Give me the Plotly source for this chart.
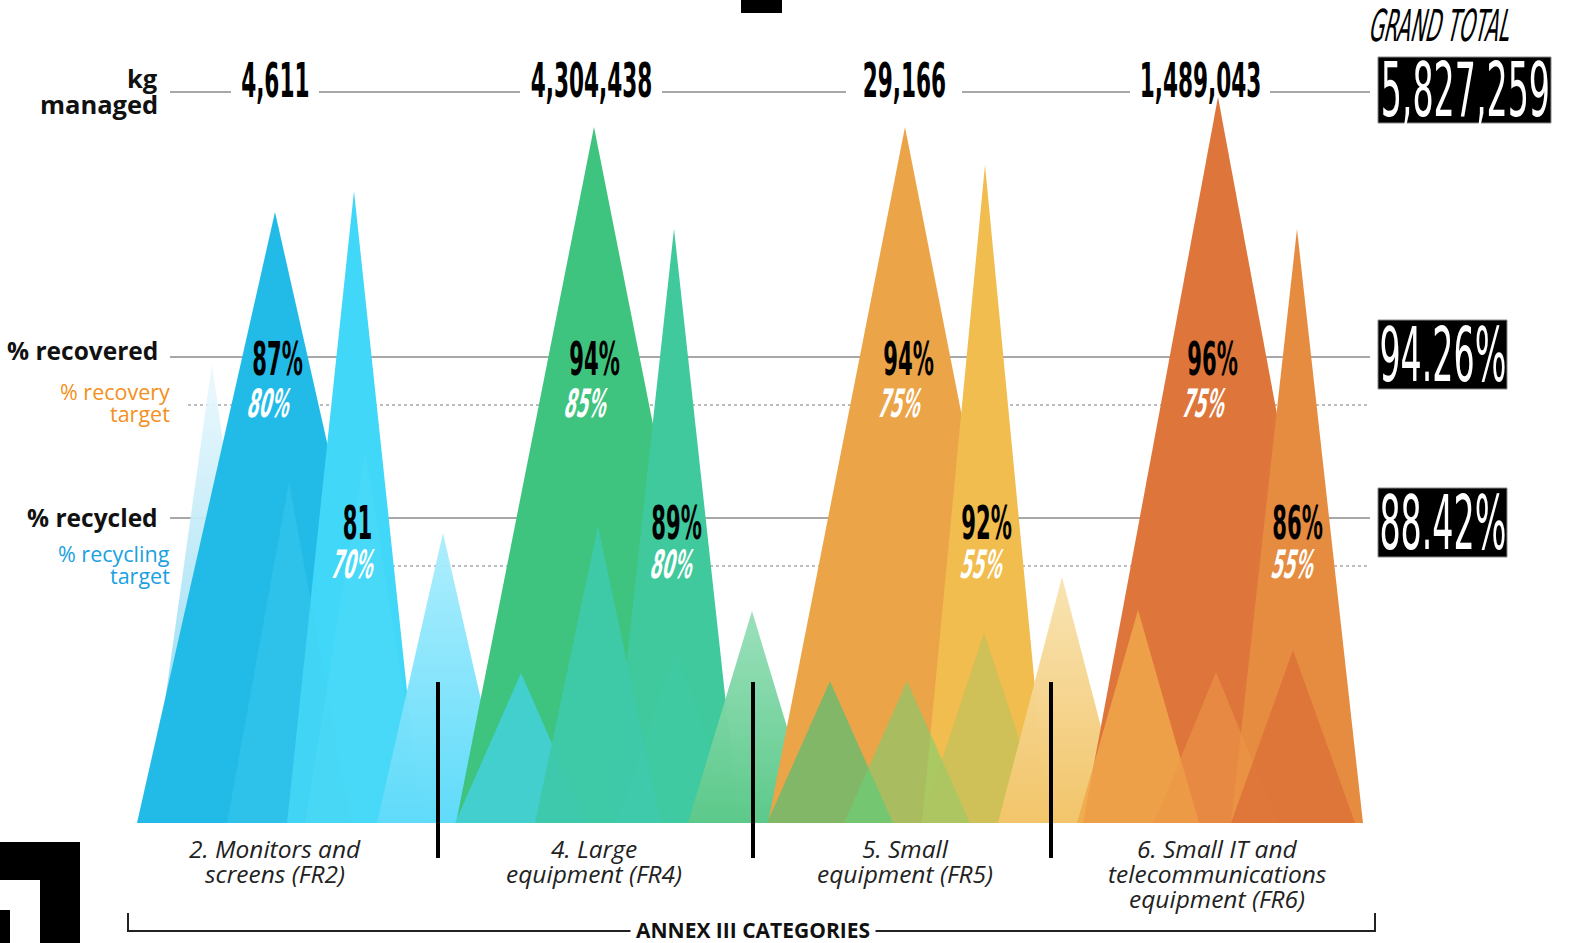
import plotly.graph_objects as go

# ---------------- data ----------------
categories = ["2. Monitors and<br>screens (FR2)", "4. Large<br>equipment (FR4)",
              "5. Small<br>equipment (FR5)", "6. Small IT and<br>telecommunications<br>equipment (FR6)"]
kg_managed = [4611, 4304438, 29166, 1489043]
pct_recovered = [87, 94, 94, 96]
pct_recovery_target = [80, 85, 75, 75]
pct_recycled = [81, 89, 92, 86]
recycled_suffix = ["", "%", "%", "%"]
pct_recycling_target = [70, 80, 55, 55]
grand_total_kg = 5827259
grand_total_recovered = 94.26
grand_total_recycled = 88.42

# ---------------- layout geometry (pixels) ----------------
W, H = 1570, 943
BASE_Y = 823
group_x = [275, 594, 905, 1217]
kg_label_x = [275, 591, 904, 1200]
kg_gap_half = [44, 71, 58, 70]
recov_label_x = [277, 594, 908, 1212]
recyc_label_x = [357, 676, 986, 1297]
Y_KG, Y_REC, Y_REC_T, Y_CYC, Y_CYC_T = 92, 357, 405, 518, 566

# decorative triangles: (center x, half width, apex y, fill, gradient bottom colour or None)
triangles = [
    # blue group
    (212, 64, 364, "rgba(235,248,253,0.9)", "#7fd5f0"),
    (275, 138, 212, "#22bbe7", None),
    (354, 67, 191, "#40d7f8", None),
    (289, 62, 482, "rgba(70,205,242,0.35)", None),
    (365, 60, 449, "rgba(90,220,250,0.35)", None),
    (443, 66, 533, "rgba(170,237,253,0.95)", "#5fdbfa"),
    # green group
    (594, 138, 127, "#3ec47e", None),
    (674, 65, 229, "#3fc99d", None),
    (521, 66, 673, "rgba(66,208,210,0.95)", None),
    (598, 63, 526, "rgba(62,201,170,0.92)", None),
    (676, 60, 650, "rgba(62,205,175,0.30)", None),
    (752, 64, 611, "rgba(150,223,184,0.95)", "#5cc98a"),
    # orange group
    (905, 137, 127, "#eca448", None),
    (985, 63, 165, "#f0bd4e", None),
    (830, 63, 681, "rgba(62,196,126,0.6)", None),
    (907, 63, 681, "rgba(102,214,120,0.5)", None),
    (984, 63, 633, "rgba(176,195,98,0.5)", None),
    (1062, 64, 577, "rgba(248,226,174,0.95)", "#f2c56a"),
    # red group
    (1218, 135, 97, "#de763b", None),
    (1297, 66, 229, "#e68c40", None),
    (1138, 61, 610, "rgba(240,168,74,0.85)", None),
    (1216, 62, 672, "rgba(236,150,72,0.6)", None),
    (1293, 62, 650, "rgba(220,112,56,0.8)", None),
]

COND = "DejaVu Sans Condensed, DejaVu Sans"   # squeezed horizontally after render
SANS = "Open Sans, Lato, sans-serif"

fig = go.Figure()
for cx, hw, apex, col, grad in triangles:
    kw = dict(x=[cx - hw, cx, cx + hw, cx - hw], y=[BASE_Y, apex, BASE_Y, BASE_Y],
              mode="none", fill="toself", hoverinfo="skip", showlegend=False)
    if grad:
        kw["fillgradient"] = dict(type="vertical", colorscale=[[0, col], [1, grad]],
                                  start=apex, stop=BASE_Y)
    else:
        kw["fillcolor"] = col
    fig.add_trace(go.Scatter(**kw))

shapes = []
GRAY = "#a8a8a8"
# kg managed row with gaps round the numbers
xs = [170]
for lx, g in zip(kg_label_x, kg_gap_half):
    xs += [lx - g, lx + g]
xs.append(1370)
for a, b in zip(xs[0::2], xs[1::2]):
    shapes.append(dict(type="line", x0=a, x1=b, y0=Y_KG, y1=Y_KG, layer="below",
                       line=dict(color=GRAY, width=2)))
for y0, x0, dash, w in [(Y_REC, 170, "solid", 2), (Y_CYC, 170, "solid", 2),
                        (Y_REC_T, 188, "dot", 1.5), (Y_CYC_T, 188, "dot", 1.5)]:
    shapes.append(dict(type="line", x0=x0, x1=1370, y0=y0, y1=y0, layer="below",
                       line=dict(color=GRAY, width=w, dash=dash)))
# separators
for sx in [438, 753, 1051]:
    shapes.append(dict(type="line", x0=sx, x1=sx, y0=682, y1=858, layer="above",
                       line=dict(color="black", width=4)))
# bracket
shapes.append(dict(type="path", path="M128,913 L128,931 L1375,931 L1375,913", layer="above",
                   line=dict(color="#222", width=2)))
# grand total boxes
for x0, y0, x1, y1 in [(1378, 57, 1551, 123), (1378, 320, 1507, 389), (1378, 488, 1507, 557)]:
    shapes.append(dict(type="rect", x0=x0, x1=x1, y0=y0, y1=y1, fillcolor="black",
                       line=dict(color="#888", width=1), layer="above"))
# decorative black blocks
shapes.append(dict(type="rect", x0=741, x1=782, y0=0, y1=13, fillcolor="black", line_width=0))
shapes.append(dict(type="rect", x0=0, x1=80, y0=842, y1=943, fillcolor="black", line_width=0))
shapes.append(dict(type="rect", x0=0, x1=40, y0=880, y1=943, fillcolor="white", line_width=0))
shapes.append(dict(type="rect", x0=0, x1=10, y0=910, y1=943, fillcolor="black", line_width=0))

ann = []
def A(x, y, text, size, color="black", family=COND, weight="normal", style="normal",
      xanchor="center", yanchor="middle", align="center", **kw):
    ann.append(dict(x=x, y=y, xref="x", yref="y", text=text, showarrow=False,
                    xanchor=xanchor, yanchor=yanchor, align=align,
                    font=dict(family=family, size=size, color=color, weight=weight, style=style), **kw))

# row labels
A(160, 78, "kg", 25.5, "#111", SANS, 700, xanchor="right")
A(160, 104, "managed", 25.5, "#111", SANS, 700, xanchor="right")
A(160, 350, "% recovered", 24.5, "#111", SANS, 700, xanchor="right")
A(172, 391, "% recovery", 21.5, "#f39020", SANS, 500, xanchor="right")
A(172, 413, "target", 21.5, "#f39020", SANS, 500, xanchor="right")
A(160, 517, "% recycled", 24.5, "#111", SANS, 700, xanchor="right")
A(172, 553, "% recycling", 21.5, "#1aa0e0", SANS, 500, xanchor="right")
A(172, 575, "target", 21.5, "#1aa0e0", SANS, 500, xanchor="right")

# kg managed values
for lx, v in zip(kg_label_x, kg_managed):
    A(lx, 80, f"{v:,}", 48, "black", COND, "bold")

# percentages per category
for i in range(4):
    A(recov_label_x[i], Y_REC + 1, f"{pct_recovered[i]}%", 47, "black", COND, "bold")
    A(recov_label_x[i] - 7, Y_REC_T - 2, f"{pct_recovery_target[i]}%", 39, "white", COND, "bold", "italic")
    A(recyc_label_x[i], Y_CYC + 4, f"{pct_recycled[i]}{recycled_suffix[i]}", 47, "black", COND, "bold")
    A(recyc_label_x[i] - 3, Y_CYC_T - 2, f"{pct_recycling_target[i]}%", 39, "white", COND, "bold", "italic")

# category names (one annotation per line for tight leading)
for gx, c in zip(group_x, categories):
    for k, line in enumerate(c.split("<br>")):
        A(gx, 848 + 25 * k, line, 24.5, "#222", SANS, 400, "italic")
A(753, 930, "ANNEX III CATEGORIES", 21, "#111", SANS, 700, bgcolor="white", borderpad=5)

# grand totals
A(1441, 25, "GRAND TOTAL", 44, "black", COND, "normal", "italic")
A(1465, 90, f"{grand_total_kg:,}", 74, "white", COND)
A(1443, 355, f"{grand_total_recovered:.2f}%", 74, "white", COND)
A(1443, 523, f"{grand_total_recycled:.2f}%", 74, "white", COND)

fig.update_layout(
    width=W, height=H, margin=dict(l=0, r=0, t=0, b=0),
    paper_bgcolor="white", plot_bgcolor="white",
    xaxis=dict(range=[0, W], visible=False, fixedrange=True),
    yaxis=dict(range=[H, 0], visible=False, fixedrange=True),
    shapes=shapes, annotations=ann, showlegend=False,
)

post = """
document.body.style.margin='0';
document.body.style.overflow='hidden';
var gd = document.getElementById('{plot_id}');
gd.querySelectorAll('text.annotation-text').forEach(function(t){
  var ff = t.style.fontFamily || '';
  if (ff.indexOf('Condensed') >= 0) {
    var it = (t.style.fontStyle === 'italic');
    t.style.fontStyle = 'normal';
    t.style.transformBox = 'fill-box';
    t.style.transformOrigin = 'center';
    t.style.transform = (it ? 'skewX(-13deg) ' : '') + 'scaleX(0.5)';
  }
});
"""
fig.write_html("out.html", config={"displayModeBar": False, "staticPlot": True}, post_script=post)
